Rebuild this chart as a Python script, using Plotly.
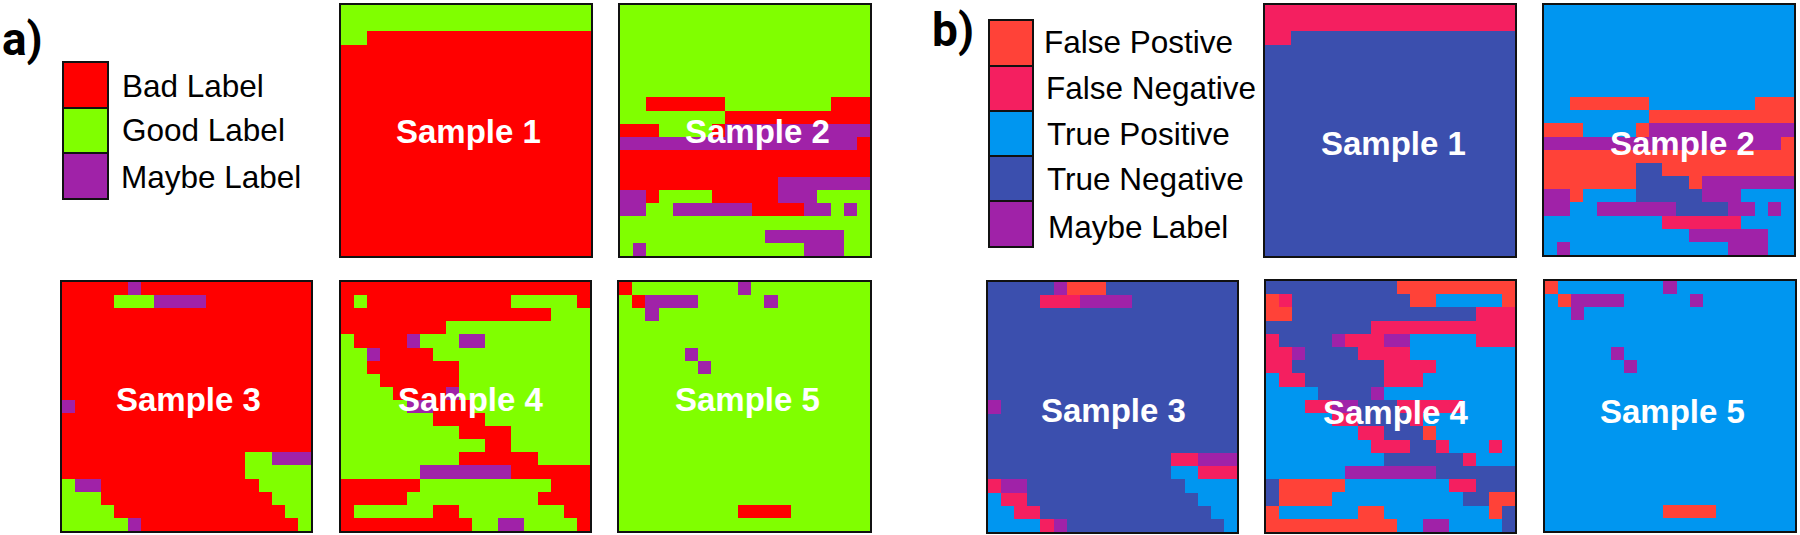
import plotly.graph_objects as go

W = 1800
H = 535

# label grids, 19 x 19, top row first
# R bad, G good, M maybe / F false pos, N false neg, T true pos, D true neg
G19 = "GGGGGGGGGGGGGGGGGGG"
R19 = "RRRRRRRRRRRRRRRRRRR"
T19 = "TTTTTTTTTTTTTTTTTTT"
D19 = "DDDDDDDDDDDDDDDDDDD"
N19 = "NNNNNNNNNNNNNNNNNNN"

a_sample1 = [G19, G19, "GGRRRRRRRRRRRRRRRRR"] + [R19] * 16

a_sample2 = [G19] * 7 + [
    "GGRRRRRRGGGGGGGGRRR",
    "GGGGGGGGRRRRRRRRRRR",
    "RRRGGGGRMMMMMMMMMMM",
    "MMMMMMMMMMMMMMMMMMR",
    R19,
    R19,
    "RRRRRRRRRRRRMMMMMMM",
    "MMRGGGGRRRRRMMMGGGG",
    "MMGGMMMMMMRRRRMMGMG",
    G19,
    "GGGGGGGGGGGMMMMMMGG",
    "GMGGGGGGGGGGGGMMMGG",
]

a_sample3 = [
    "RRRRRMRRRRRRRRRRRRR",
    "RRRRGGGMMMMRRRRRRRR",
] + [R19] * 7 + [
    "MRRRRRRRRRRRRRRRRRR",
    R19,
    R19,
    R19,
    "RRRRRRRRRRRRRRGGMMM",
    "RRRRRRRRRRRRRRGGGGG",
    "GMMRRRRRRRRRRRRGGGG",
    "GGGRRRRRRRRRRRRRGGG",
    "GGGGRRRRRRRRRRRRRGG",
    "GGGGGMRRRRRRRRRRRRG",
]

a_sample4 = [
    R19,
    "RGRRRRRRRRRRRGGGGGR",
    "RRRRRRRRRRRRRRRRGGG",
    "RRRRRRRRGGGGGGGGGGG",
    "GRRRRMGGGMMGGGGGGGG",
    "GGMRRRRGGGGGGGGGGGG",
    "GGRRRRRRRGGGGGGGGGG",
    "GGGRRRRRRGGGGGGGGGG",
    "GGGGRRRRMGGGGGGGGGG",
    "GGGGGMMRRRGGGGGGGGG",
    "GGGGGGGRRRRGGGGGGGG",
    "GGGGGGGGGRRRRGGGGGG",
    "GGGGGGGGGGGRRGGGGGG",
    "GGGGGGGGGRRRRRRGGGG",
    "GGGGGGMMMMMMMRRRRRR",
    "RRRRRRGGGGGGGGGGRRR",
    "RRRRRGGGGGGGGGGRRRR",
    "RGGGGGGRRGGGGGGGGRR",
    "RRRRRRRRRRGGMMGGGGR",
]

a_sample5 = [
    "RGGGGGGGGMGGGGGGGGG",
    "GRMMMMGGGGGMGGGGGGG",
    "GGMGGGGGGGGGGGGGGGG",
    G19,
    G19,
    "GGGGGMGGGGGGGGGGGGG",
    "GGGGGGMGGGGGGGGGGGG",
] + [G19] * 10 + [
    "GGGGGGGGGRRRRGGGGGG",
    G19,
]

b_sample1 = [N19, N19, "NNDDDDDDDDDDDDDDDDD"] + [D19] * 16

b_sample2 = [T19] * 7 + [
    "TTFFFFFFTTTTTTTTFFF",
    "TTTTTTTTFFFFFFFFFFF",
    "FFFTTTTFMMMMMMMMMMM",
    "MMMMMMMMMMMMMMMMMMF",
    "FFFFFFFFFFFFFFFFFFF",
    "FFFFFFFDDFFFFFFFFFF",
    "FFFFFFFDDDDFMMMMMMM",
    "MMFTTTTDDDDDMMMTTTT",
    "MMTTMMMMMMDDDDMMTMT",
    "TTTTTTTTTNNNNNNTTTT",
    "TTTTTTTTTTTMMMMMMTT",
    "TMTTTTTTTTTTTTMMMTT",
]

b_sample3 = [
    "DDDDDMFFFDDDDDDDDDD",
    "DDDDNNNMMMMDDDDDDDD",
] + [D19] * 7 + [
    "MDDDDDDDDDDDDDDDDDD",
    D19,
    D19,
    D19,
    "DDDDDDDDDDDDDDNNMMM",
    "DDDDDDDDDDDDDDTTNNN",
    "NMMDDDDDDDDDDDDTTTT",
    "TNNDDDDDDDDDDDDDTTT",
    "TTNNDDDDDDDDDDDDDTT",
    "TTTTNMDDDDDDDDDDDDT",
]

b_sample4 = [
    "DDDDDDDDDDFFFFFFFFF",
    "FNDDDDDDDDDFFTTTTTF",
    "FFDDDDDDDDDDDDDDNNN",
    "DDDDDDDDNNNNNNNNNNN",
    "NDDDDMNNNMMTTTTTNNN",
    "NNMDDDDNNNNTTTTTTTT",
    "NNDDDDDDDNNNNTTTTTT",
    "TNNDDDDDDNNNTTTTTTT",
    "TTTTDDDDMTTTTTTTTTT",
    "TTTNNMMDDDNNNNNTTTT",
    "TTTTTNNDDDDNTTTTTTT",
    "TTTTTTTNNDDDFTTTTTT",
    "TTTTTTTTNNNDDNTTTNT",
    "TTTTTTTTTDDDDDDNTTT",
    "TTTTTTMMMMMMMDDDDDD",
    "DFFFFFTTTTTTTTNNDDD",
    "DFFFFTTTTTTTTTTDDFF",
    "FTTTTTTFFTTTTTTTTFD",
    "FFFFFFFFFFTTMMTTTTD",
]

b_sample5 = [
    "FTTTTTTTTMTTTTTTTTT",
    "TFMMMMTTTTTMTTTTTTT",
    "TTMTTTTTTTTTTTTTTTT",
    T19,
    T19,
    "TTTTTMTTTTTTTTTTTTT",
    "TTTTTTMTTTTTTTTTTTT",
] + [T19] * 10 + [
    "TTTTTTTTTFFFFTTTTTT",
    T19,
]

colors = {
    "R": "#FF0000",
    "G": "#80FF00",
    "M": "#A022A8",
    "F": "#FF4238",
    "N": "#F41F60",
    "T": "#0096F0",
    "D": "#3B4FAE",
}
codes = list(colors)

# name, grid, left, right, top, bottom (px), label centre x, y
panels = [
    ("Sample 1", a_sample1, 341, 591, 5, 256, 468, 132),
    ("Sample 2", a_sample2, 620, 870, 5, 256, 757, 131),
    ("Sample 3", a_sample3, 62, 311, 282, 531, 188, 399),
    ("Sample 4", a_sample4, 341, 590, 282, 531, 471, 399),
    ("Sample 5", a_sample5, 619, 870, 282, 531, 747, 399),
    ("Sample 1", b_sample1, 1265, 1515, 5, 256, 1393, 143),
    ("Sample 2", b_sample2, 1544, 1794, 5, 255, 1682, 143),
    ("Sample 3", b_sample3, 988, 1237, 282, 532, 1113, 410),
    ("Sample 4", b_sample4, 1266, 1515, 281, 532, 1396, 412),
    ("Sample 5", b_sample5, 1545, 1795, 281, 531, 1672, 411),
]

# discrete colorscale, one flat band per code
colorscale = []
for i, c in enumerate(codes):
    colorscale.append([i / len(codes), colors[c]])
    colorscale.append([(i + 1) / len(codes), colors[c]])

fig = go.Figure()
layout = {}
annotations = []

for n, (name, grid, left, right, top, bottom, tx, ty) in enumerate(panels, start=1):
    assert len(grid) == 19 and all(len(r) == 19 for r in grid), name
    z = [[codes.index(c) for c in row] for row in grid]
    suffix = "" if n == 1 else str(n)
    fig.add_trace(go.Heatmap(
        z=z,
        zmin=0,
        zmax=len(codes) - 1,
        colorscale=colorscale,
        showscale=False,
        hoverinfo="skip",
        xaxis="x" + suffix,
        yaxis="y" + suffix,
    ))
    axis = dict(
        showticklabels=False,
        ticks="",
        showgrid=False,
        zeroline=False,
        showline=True,
        mirror=True,
        linecolor="#111111",
        linewidth=2,
    )
    layout["xaxis" + suffix] = dict(axis, domain=[left / W, right / W], range=[-0.5, 18.5], anchor="y" + suffix)
    layout["yaxis" + suffix] = dict(axis, domain=[1 - bottom / H, 1 - top / H], range=[18.5, -0.5], anchor="x" + suffix)
    annotations.append(dict(
        text=name, x=tx / W, y=1 - ty / H, xref="paper", yref="paper",
        xanchor="center", yanchor="middle", showarrow=False,
        font=dict(family="Liberation Sans", size=33, color="white", weight="bold"),
    ))

# legends
legend_a = [("Bad Label", "R", 120, 86), ("Good Label", "G", 120, 130), ("Maybe Label", "M", 119, 177)]
legend_a_edges = [62, 108, 153, 199]
legend_b = [
    ("False Postive", "F", 1042, 42),
    ("False Negative", "N", 1044, 88),
    ("True Positive", "T", 1045, 134),
    ("True Negative", "D", 1045, 179),
    ("Maybe Label", "M", 1046, 227),
]
legend_b_edges = [20, 66, 111, 156, 201, 247]

shapes = []
for entries, edges, x0, x1 in [(legend_a, legend_a_edges, 63, 108), (legend_b, legend_b_edges, 989, 1033)]:
    for i, (label, code, lx, ly) in enumerate(entries):
        shapes.append(dict(
            type="rect", xref="paper", yref="paper",
            x0=x0 / W, x1=x1 / W, y0=1 - edges[i + 1] / H, y1=1 - edges[i] / H,
            fillcolor=colors[code], line=dict(color="#111111", width=2),
        ))
        annotations.append(dict(
            text=label, x=lx / W, y=1 - ly / H, xref="paper", yref="paper",
            xanchor="left", yanchor="middle", showarrow=False,
            font=dict(family="Liberation Sans", size=31.5, color="black"),
        ))

# panel letters
for letter, lx, ly in [("a)", 0, 39), ("b)", 930, 30)]:
    annotations.append(dict(
        text=letter, x=lx / W, y=1 - ly / H, xref="paper", yref="paper",
        xanchor="left", yanchor="middle", showarrow=False,
        font=dict(family="Roboto", size=46, color="black", weight="bold"),
    ))

fig.update_layout(
    width=W,
    height=H,
    margin=dict(l=0, r=0, t=0, b=0),
    paper_bgcolor="white",
    plot_bgcolor="white",
    showlegend=False,
    shapes=shapes,
    annotations=annotations,
    **layout,
)

fig.write_html(
    "out.html",
    config={"displayModeBar": False},
    post_script="document.body.style.margin='0';document.body.style.overflow='hidden';",
)
